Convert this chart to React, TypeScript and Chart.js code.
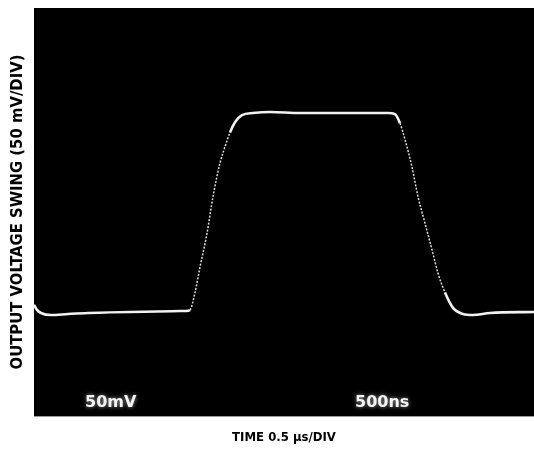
import React, { useEffect, useRef } from "react";
import { Chart, registerables } from "chart.js";

Chart.register(...registerables);

// Time in microseconds (0.5 µs per division, 10 divisions)
const timeUs = [0, 0.03, 0.07, 0.17, 0.34, 0.54, 0.96, 1.52, 1.56, 1.61, 1.66, 1.73, 1.79, 1.86, 1.91, 1.96, 2.01, 2.08, 2.19, 2.36, 2.66, 3.16, 3.54, 3.61, 3.66, 3.71, 3.78, 3.84, 3.91, 3.98, 4.04, 4.11, 4.19, 4.29, 4.39, 4.56, 5.0];
// Output in mV (50 mV per division, 8 divisions)
const outputMv = [109, 104, 101, 99, 100, 101, 102, 103, 104, 121, 146, 179, 215, 248, 264, 278, 288, 295, 297, 298, 297, 297, 297, 296, 287, 271, 244, 215, 189, 163, 140, 121, 106, 100, 99, 101, 102];

const xRange = [0, 5];
const yRange = [0, 400];
const xTitle = "TIME 0.5 µs/DIV";
const yTitle = "OUTPUT VOLTAGE SWING (50 mV/DIV)";
const scopeLabels = ["50mV", "500ns"];

const titleFont = "'Liberation Sans Narrow', 'DejaVu Sans Condensed', Arial, sans-serif";

const scopePlugin = {
  id: "scope",
  beforeDatasetsDraw(chart: any) {
    const { ctx, chartArea } = chart;
    ctx.save();
    ctx.fillStyle = "#000";
    ctx.fillRect(chartArea.left, chartArea.top, chartArea.right - chartArea.left, chartArea.bottom - chartArea.top);
    ctx.restore();
  },
  afterDraw(chart: any) {
    const { ctx, chartArea } = chart;
    ctx.save();
    ctx.fillStyle = "#f4f4f4";
    ctx.shadowColor = "rgba(255,255,255,0.6)";
    ctx.shadowBlur = 4;
    ctx.font = "bold 16px 'DejaVu Sans', sans-serif";
    ctx.textBaseline = "alphabetic";
    ctx.textAlign = "left";
    ctx.fillText(scopeLabels[0], chartArea.left + 51, chartArea.bottom - 9);
    ctx.fillText(scopeLabels[1], chartArea.left + 321, chartArea.bottom - 9);
    ctx.restore();
  },
};

export default function App() {
  const ref = useRef<HTMLCanvasElement | null>(null);
  useEffect(() => {
    if (!ref.current) return;
    const steep = (c: any) => {
      const dx = c.p1.parsed.x - c.p0.parsed.x;
      const dy = c.p1.parsed.y - c.p0.parsed.y;
      return Math.abs(dy / dx) > 250;
    };
    const chart = new Chart(ref.current, {
      type: "line",
      data: {
        datasets: [
          {
            data: timeUs.map((t, i) => ({ x: t, y: outputMv[i] })),
            borderColor: "#f2f2f2",
            borderWidth: 2.6,
            pointRadius: 0,
            cubicInterpolationMode: "monotone",
            segment: {
              borderWidth: (c: any) => (steep(c) ? 1.5 : undefined),
              borderColor: (c: any) => (steep(c) ? "#dcdcdc" : undefined),
              borderDash: (c: any) => (steep(c) ? [2, 1.5] : undefined),
            },
          } as any,
        ],
      },
      options: {
        animation: false,
        responsive: false,
        maintainAspectRatio: false,
        layout: { padding: { top: 8, right: 0, left: 0, bottom: 0 } },
        plugins: { legend: { display: false }, tooltip: { enabled: false } },
        scales: {
          x: {
            type: "linear",
            min: xRange[0],
            max: xRange[1],
            ticks: { display: false },
            grid: { display: false },
            border: { display: true, color: "#9a9a9a", dash: [1, 2], width: 1 },
            title: {
              display: true,
              text: xTitle,
              color: "#000",
              font: { family: titleFont, size: 13, weight: "bold" },
              padding: { top: 0, bottom: 10 },
            },
            afterFit: (s: any) => {
              s.height = 39;
            },
          },
          y: {
            type: "linear",
            min: yRange[0],
            max: yRange[1],
            ticks: { display: false },
            grid: { display: false },
            border: { display: true, color: "#9a9a9a", dash: [1, 2], width: 1 },
            title: {
              display: true,
              text: yTitle,
              color: "#000",
              font: { family: titleFont, size: 16.5, weight: "bold" },
              padding: { top: 8, bottom: 0 },
            },
            afterFit: (s: any) => {
              s.width = 34;
            },
          },
        },
      } as any,
      plugins: [scopePlugin],
    });
    return () => chart.destroy();
  }, []);
  return (
    <div style={{ position: "absolute", left: 0, top: 0, width: 534, height: 455, background: "#fff" }}>
      <canvas ref={ref} width={534} height={455} style={{ width: 534, height: 455 }} />
    </div>
  );
}
